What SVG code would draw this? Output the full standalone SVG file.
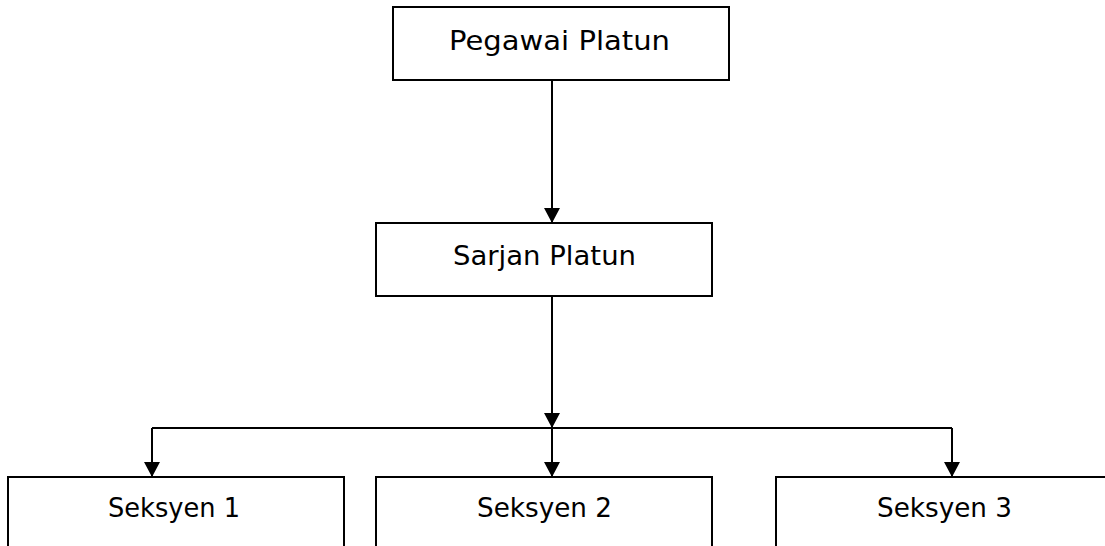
<svg xmlns="http://www.w3.org/2000/svg" width="1105" height="546" viewBox="0 0 1105 546">
<style>
.box{fill:#fff;stroke:#000;stroke-width:2}
.lbl{font-family:"DejaVu Sans","Liberation Sans",sans-serif;font-size:27px;fill:#000;text-anchor:middle}
.con{fill:none;stroke:#000;stroke-width:2}
</style>
<defs>
<marker id="ah" markerUnits="userSpaceOnUse" markerWidth="15" markerHeight="16" refX="15" refY="8" orient="auto" viewBox="0 0 15 16">
<path d="M0,0 L15,8 L0,16 Z" fill="#000"/>
</marker>
</defs>
<rect width="1105" height="546" fill="#fff"/>
<g id="connectors">
<path class="con" d="M552,80 V223" marker-end="url(#ah)"/>
<path class="con" d="M552,296 V428" marker-end="url(#ah)"/>
<path class="con" d="M152,428 H952"/>
<path class="con" d="M152,428 V477" marker-end="url(#ah)"/>
<path class="con" d="M552,428 V477" marker-end="url(#ah)"/>
<path class="con" d="M952,428 V477" marker-end="url(#ah)"/>
</g>
<g id="pegawai">
<rect class="box" x="393" y="7" width="336" height="73"/>
<text class="lbl" x="559.5" y="50" textLength="221" lengthAdjust="spacingAndGlyphs">Pegawai Platun</text>
</g>
<g id="sarjan">
<rect class="box" x="376" y="223" width="336" height="73"/>
<text class="lbl" x="544.5" y="265" textLength="183" lengthAdjust="spacingAndGlyphs">Sarjan Platun</text>
</g>
<g id="seksyen1">
<rect class="box" x="8" y="477" width="336" height="100"/>
<text class="lbl" x="174" y="517" textLength="132" lengthAdjust="spacingAndGlyphs">Seksyen 1</text>
</g>
<g id="seksyen2">
<rect class="box" x="376" y="477" width="336" height="100"/>
<text class="lbl" x="544.5" y="517" textLength="135" lengthAdjust="spacingAndGlyphs">Seksyen 2</text>
</g>
<g id="seksyen3">
<rect class="box" x="776" y="477" width="336" height="100"/>
<text class="lbl" x="944.5" y="517" textLength="135" lengthAdjust="spacingAndGlyphs">Seksyen 3</text>
</g>
</svg>
